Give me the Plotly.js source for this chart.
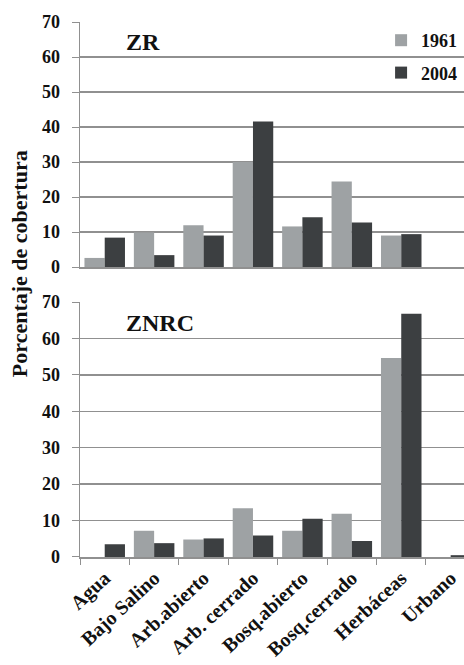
<!DOCTYPE html>
<html>
<head>
<meta charset="utf-8">
<script src="https://cdn.plot.ly/plotly-3.0.1.min.js"></script>
<style>html,body{margin:0;padding:0;background:#fff;}#chart{width:464px;height:665px;}</style>
</head>
<body>
<div id="chart"></div>
<script>
const categories = ["Agua", "Bajo Salino", "Arb.abierto", "Arb. cerrado", "Bosq.abierto", "Bosq.cerrado", "Herbáceas", "Urbano"];
const zr1961 = [2.6, 9.9, 11.9, 30.0, 11.6, 24.4, 9.0, 0];
const zr2004 = [8.4, 3.4, 9.0, 41.6, 14.2, 12.7, 9.4, 0];
const znrc1961 = [0, 7.2, 4.8, 13.4, 7.2, 11.9, 54.6, 0];
const znrc2004 = [3.5, 3.8, 5.1, 5.9, 10.5, 4.4, 66.8, 0.5];
const yTicks = [0, 10, 20, 30, 40, 50, 60, 70];
const seriesNames = ["1961", "2004"];
const panelLabels = ["ZR", "ZNRC"];
const yTitle = "Porcentaje de cobertura";

const c1 = "#9ea2a4", c2 = "#3c3f41";
const fontFam = "Liberation Serif";
const gridC = "#909090";

const traces = [
  {type: "bar", x: categories, y: zr1961, name: seriesNames[0], marker: {color: c1}, xaxis: "x", yaxis: "y", legendgroup: "a"},
  {type: "bar", x: categories, y: zr2004, name: seriesNames[1], marker: {color: c2}, xaxis: "x", yaxis: "y", legendgroup: "b"},
  {type: "bar", x: categories, y: znrc1961, name: seriesNames[0], marker: {color: c1}, xaxis: "x2", yaxis: "y2", showlegend: false},
  {type: "bar", x: categories, y: znrc2004, name: seriesNames[1], marker: {color: c2}, xaxis: "x2", yaxis: "y2", showlegend: false}
];

const yAx = (domain) => ({
  domain: domain, range: [0, 70], tickvals: yTicks, ticktext: yTicks.map(String),
  showgrid: true, gridcolor: gridC, gridwidth: 1.3,
  showline: true, linecolor: gridC, linewidth: 1.5,
  ticks: "outside", ticklen: 7, tickcolor: gridC, ticklabelstandoff: 8,
  tickfont: {family: fontFam, size: 18, color: "#111", weight: "bold"}, zeroline: false, fixedrange: true
});

const xRange = [-0.5, 7.27];

const layout = {
  width: 464, height: 665,
  margin: {l: 80, r: 0, t: 22, b: 108},
  paper_bgcolor: "#fff", plot_bgcolor: "#fff",
  barmode: "group", bargap: 0.18, bargroupgap: 0,
  showlegend: true,
  legend: {x: 0.995, xanchor: "right", y: 1.0, yanchor: "top", font: {family: fontFam, size: 18, color: "#111", weight: "bold"},
           traceorder: "grouped", tracegroupgap: 6, itemwidth: 30, bgcolor: "rgba(0,0,0,0)"},
  xaxis: {domain: [0, 1], range: xRange, anchor: "y", showticklabels: false, showline: true, linecolor: gridC, linewidth: 1.5, ticks: "", fixedrange: true},
  yaxis: yAx([0.542, 1]),
  xaxis2: {domain: [0, 1], range: xRange, anchor: "y2", showline: true, linecolor: gridC, linewidth: 1.5,
           ticks: "outside", tickson: "boundaries", ticklen: 6, tickcolor: gridC, tickangle: -43,
           tickfont: {family: fontFam, size: 20, color: "#111", weight: "bold"}, fixedrange: true},
  yaxis2: yAx([0, 0.4766]),
  annotations: [
    {text: "<b>" + panelLabels[0] + "</b>", xref: "paper", yref: "paper", x: 0.115, y: 0.962, xanchor: "left", yanchor: "middle", showarrow: false, font: {family: fontFam, size: 24, color: "#111"}},
    {text: "<b>" + panelLabels[1] + "</b>", xref: "paper", yref: "paper", x: 0.115, y: 0.438, xanchor: "left", yanchor: "middle", showarrow: false, font: {family: fontFam, size: 24, color: "#111"}},
    {text: "<b>" + yTitle + "</b>", xref: "paper", yref: "paper", x: -0.158, y: 0.548, xanchor: "center", yanchor: "middle", textangle: -90, showarrow: false, font: {family: fontFam, size: 22, color: "#111"}}
  ]
};

Plotly.newPlot("chart", traces, layout, {displayModeBar: false, staticPlot: true});
</script>
</body>
</html>
